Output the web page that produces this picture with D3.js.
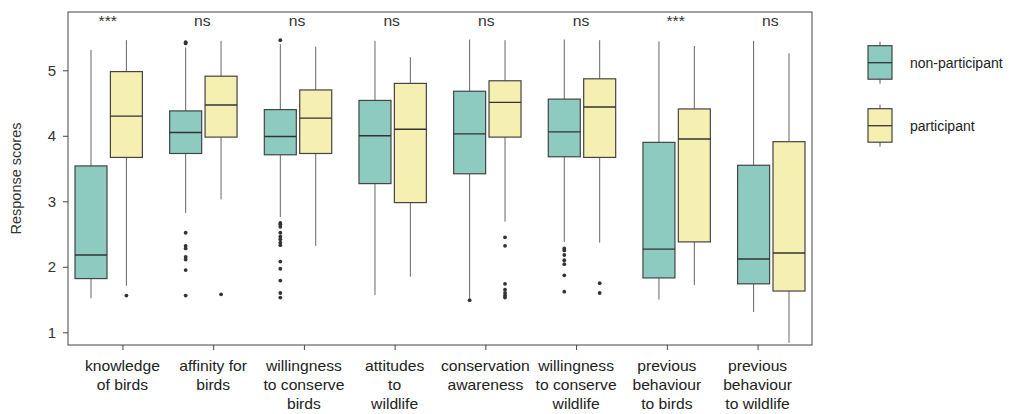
<!DOCTYPE html>
<html>
<head>
<meta charset="utf-8">
<script src="https://cdn.jsdelivr.net/npm/d3@7"></script>
<style>
  body { margin: 0; background: #fff; }
  svg { display: block; font-family: "Liberation Sans", Arial, sans-serif; }
</style>
</head>
<body>
<svg id="chart" width="1016" height="414"></svg>
<script>
// categories, one label line per array entry
var categories = [
  ["knowledge", "of birds"],
  ["affinity for", "birds"],
  ["willingness", "to conserve", "birds"],
  ["attitudes", "to", "wildlife"],
  ["conservation", "awareness"],
  ["willingness", "to conserve", "wildlife"],
  ["previous", "behaviour", "to birds"],
  ["previous", "behaviour", "to wildlife"]
];
var significance = ["***", "ns", "ns", "ns", "ns", "ns", "***", "ns"];
var series = ["non-participant", "participant"];
var yTicks = [1, 2, 3, 4, 5];

// non-participant box stats
var npLow  = [1.52, 2.82, 2.76, 1.57, 1.52, 2.38, 1.50, 1.31];
var npQ1   = [1.82, 3.73, 3.71, 3.27, 3.42, 3.68, 1.83, 1.74];
var npMed  = [2.18, 4.05, 3.99, 4.00, 4.03, 4.06, 2.27, 2.12];
var npQ3   = [3.54, 4.38, 4.40, 4.54, 4.68, 4.56, 3.90, 3.55];
var npHigh = [5.31, 5.35, 5.40, 5.45, 5.47, 5.47, 5.44, 5.45];
var npOut  = [
  [],
  [5.41, 5.43, 2.52, 2.32, 2.28, 2.15, 2.11, 1.95, 1.56],
  [5.46, 2.67, 2.65, 2.61, 2.52, 2.46, 2.42, 2.37, 2.33, 2.08, 1.97, 1.79, 1.60, 1.53],
  [],
  [1.49],
  [2.28, 2.25, 2.18, 2.10, 2.04, 1.87, 1.62],
  [],
  []
];

// participant box stats
var pLow  = [1.71, 3.03, 2.32, 1.85, 2.69, 2.37, 1.72, 0.84];
var pQ1   = [3.67, 3.98, 3.73, 2.98, 3.98, 3.67, 2.38, 1.63];
var pMed  = [4.30, 4.47, 4.27, 4.10, 4.51, 4.44, 3.95, 2.21];
var pQ3   = [4.98, 4.91, 4.70, 4.80, 4.84, 4.87, 4.41, 3.91];
var pHigh = [5.46, 5.45, 5.36, 5.20, 5.46, 5.46, 5.37, 5.26];
var pOut  = [
  [1.56],
  [1.58],
  [],
  [],
  [2.45, 2.32, 1.74, 1.65, 1.60, 1.56, 1.53],
  [1.75, 1.60],
  [],
  []
];

var colors = ["#8dcbc0", "#f5efb2"];

var svg = d3.select("#chart");
var plotLeft = 68, plotRight = 812, plotTop = 12, plotBottom = 345;
var stretch = 1.12;

var y = d3.scaleLinear().domain([0.806, 5.89]).range([plotBottom, plotTop]);
var idx = d3.range(categories.length);
// box pairs and axis labels sit on slightly different spacings in the source
var xBox = d3.scalePoint().domain(idx).range([plotLeft, plotRight]).padding(0.43);
var xTick = d3.scalePoint().domain(idx).range([plotLeft, plotRight]).padding(0.6);
var boxW = 32, offset = 17.7;

function stats(i, s) {
  if (s == 0) return {low: npLow[i], q1: npQ1[i], med: npMed[i], q3: npQ3[i], high: npHigh[i], out: npOut[i]};
  return {low: pLow[i], q1: pQ1[i], med: pMed[i], q3: pQ3[i], high: pHigh[i], out: pOut[i]};
}

// frame
svg.append("rect").attr("x", plotLeft).attr("y", plotTop)
  .attr("width", plotRight - plotLeft).attr("height", plotBottom - plotTop)
  .attr("fill", "none").attr("stroke", "#444").attr("stroke-width", 1);

// y axis
var yAxis = svg.append("g").attr("transform", "translate(" + plotLeft + ",0)")
  .call(d3.axisLeft(y).tickValues(yTicks).tickSize(5).tickPadding(7).tickFormat(d3.format("d")));
yAxis.select(".domain").remove();
yAxis.selectAll("line").attr("stroke", "#444");
yAxis.selectAll("text").attr("font-size", 15).attr("fill", "#333")
  .attr("font-family", "Liberation Sans, Arial, sans-serif");

svg.append("text")
  .attr("transform", "translate(21," + ((plotTop + plotBottom) / 2) + ") rotate(-90)")
  .attr("text-anchor", "middle").attr("font-size", 14.5).attr("fill", "#333")
  .text("Response scores");

// x axis ticks + labels
var xAxis = svg.append("g").attr("transform", "translate(0," + plotBottom + ")")
  .call(d3.axisBottom(xTick).tickSize(5).tickFormat(""));
xAxis.select(".domain").remove();
xAxis.selectAll("line").attr("stroke", "#444");

idx.forEach(function (i) {
  var t = svg.append("text")
    .attr("transform", "translate(" + xTick(i) + ",0) scale(" + stretch + ",1)")
    .attr("text-anchor", "middle").attr("font-size", 14).attr("fill", "#222");
  categories[i].forEach(function (line, k) {
    t.append("tspan").attr("x", 0).attr("y", 371 + k * 19.2).text(line);
  });
  svg.append("text")
    .attr("transform", "translate(" + (xBox(i) - 1) + ",25.5) scale(" + stretch + ",1)")
    .attr("text-anchor", "middle").attr("font-size", 14).attr("fill", "#333")
    .text(significance[i]);
});

// boxes
idx.forEach(function (i) {
  [0, 1].forEach(function (s) {
    var d = stats(i, s);
    var cx = xBox(i) + (s == 0 ? -offset : offset);
    var g = svg.append("g");
    g.append("line").attr("x1", cx).attr("x2", cx)
      .attr("y1", y(d.high)).attr("y2", y(d.q3)).attr("stroke", "#666");
    g.append("line").attr("x1", cx).attr("x2", cx)
      .attr("y1", y(d.q1)).attr("y2", y(d.low)).attr("stroke", "#666");
    g.append("rect").attr("x", cx - boxW / 2).attr("y", y(d.q3))
      .attr("width", boxW).attr("height", y(d.q1) - y(d.q3))
      .attr("fill", colors[s]).attr("stroke", "#444").attr("stroke-width", 1.2);
    g.append("line").attr("x1", cx - boxW / 2).attr("x2", cx + boxW / 2)
      .attr("y1", y(d.med)).attr("y2", y(d.med))
      .attr("stroke", "#333").attr("stroke-width", 1.4);
    g.selectAll("circle").data(d.out).enter().append("circle")
      .attr("cx", cx).attr("cy", function (v) { return y(v); })
      .attr("r", 1.9).attr("fill", "#333");
  });
});

// legend
var legY = [62.7, 125.7];
series.forEach(function (name, s) {
  var g = svg.append("g").attr("transform", "translate(880," + legY[s] + ")");
  g.append("line").attr("x1", 0).attr("x2", 0).attr("y1", -21).attr("y2", 21).attr("stroke", "#555");
  g.append("rect").attr("x", -12).attr("y", -17).attr("width", 24).attr("height", 33.5)
    .attr("fill", colors[s]).attr("stroke", "#444").attr("stroke-width", 1.2);
  g.append("line").attr("x1", -12).attr("x2", 12).attr("y1", 0).attr("y2", 0)
    .attr("stroke", "#333").attr("stroke-width", 1.3);
  g.append("text").attr("x", 30).attr("y", 5).attr("font-size", 14).attr("fill", "#222").text(name);
});
</script>
</body>
</html>
